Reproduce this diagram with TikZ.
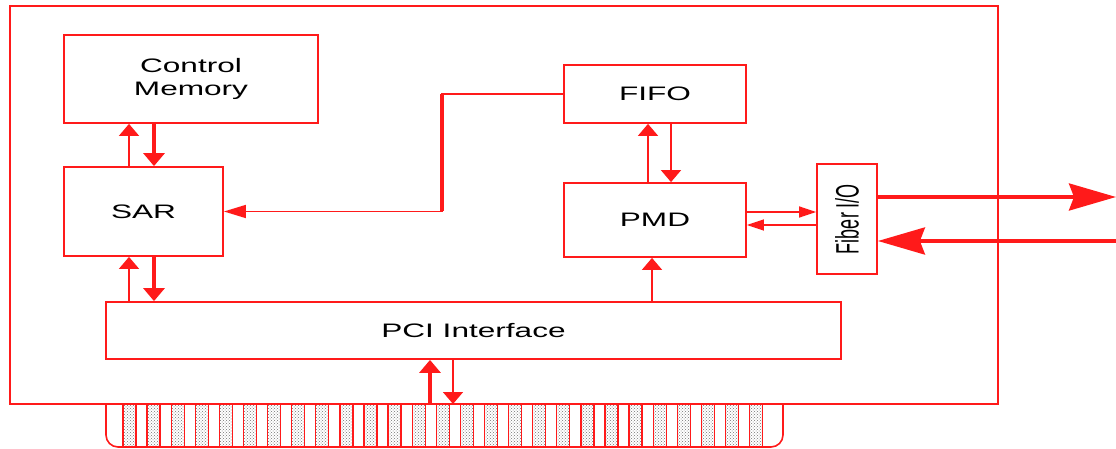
\documentclass[tikz,border=0pt]{standalone}
\usepackage{fontspec}
\setmainfont{Liberation Sans}[FakeStretch=1.62]
\newfontfamily\uprightsans{Liberation Sans}
\usepackage{graphicx}
\usepackage{tikz}
\usetikzlibrary{arrows.meta, positioning, patterns}
\definecolor{boardred}{HTML}{FF1A1A}

\begin{document}
\begin{tikzpicture}[x=1pt, y=-1pt,
    unit/.style={draw=boardred, line width=1.8pt, inner sep=0pt,
                 align=center, font=\fontsize{19.5}{23}\selectfont},
    link/.style={boardred, line width=1.6pt},
    uparr/.style={link, -{Triangle[length=12pt, width=20pt]}},
    bigup/.style={link, line width=4pt, -{Triangle[length=13pt, width=21pt]}},
    sidearr/.style={link, -{Triangle[length=22pt, width=13pt]}},
    smallside/.style={link, -{Triangle[length=17pt, width=11pt]}},
    fiberarr/.style={link, line width=3.6pt,
                     -{Stealth[length=47pt, width=27pt, inset=5pt]}},
    finger/.style={draw=boardred, line width=1.3pt,
                   pattern=crosshatch dots, pattern color=black!55}
  ]
    \useasboundingbox (0,0) rectangle (1116,449);
    % board outline and edge connector
    \draw[link, line width=1.8pt] (10,6) rectangle (998,404);
    \draw[link, rounded corners=12pt] (106,404) -- (106,447) -- (783,447) -- (783,404);
    \foreach \i in {0,...,26}
      \draw[finger] ({123+24.1*\i},404) rectangle ++(13,43);
    \coordinate (slot) at (441,404);

    % blocks
    \node[unit, minimum width=254pt, minimum height=88pt] (cmem) at (191,79)
      {Control\\Memory};
    \node[unit, minimum width=159pt, minimum height=89pt] (sar) at (143.5,211.5) {SAR};
    \node[unit, minimum width=182pt, minimum height=58pt] (fifo) at (655,94) {FIFO};
    \node[unit, minimum width=182pt, minimum height=74pt] (pmd) at (655,220) {PMD};
    \node[unit, minimum width=735pt, minimum height=57pt] (pci) at (473.5,330.5)
      {PCI Interface};
    \node[unit, minimum width=60pt, minimum height=110pt] (fiber) at (847,219) {};
    \node[rotate=90, font=\fontsize{18}{22}\uprightsans] (fiberlbl) at (fiber.center)
      {\scalebox{1}[1.8]{Fiber I/O}};

    % SAR <-> control memory, SAR <-> PCI
    \draw[uparr] ([xshift=-14.5pt]sar.north) -- ([xshift=-14.5pt]sar.north |- cmem.south);
    \draw[bigup] ([xshift=10.5pt]sar.north |- cmem.south) -- ([xshift=10.5pt]sar.north);
    \draw[uparr] ([xshift=-14.5pt]sar.south |- pci.north) -- ([xshift=-14.5pt]sar.south);
    \draw[bigup] ([xshift=10.5pt]sar.south) -- ([xshift=10.5pt]sar.south |- pci.north);

    % FIFO to SAR
    \draw[sidearr] (fifo.west) -- ++(-121,0) |- (sar.east);
    \draw[link, line width=3.5pt] ([xshift=-121pt]fifo.west) -- ([xshift=-121pt]fifo.west |- sar.east);

    % FIFO <-> PMD, PCI -> PMD
    \draw[uparr] ([xshift=-7pt]fifo.south |- pmd.north) -- ([xshift=-7pt]fifo.south);
    \draw[uparr] ([xshift=16pt]fifo.south) -- ([xshift=16pt]fifo.south |- pmd.north);
    \draw[uparr] ([xshift=-3pt]pmd.south |- pci.north) -- ([xshift=-3pt]pmd.south);

    % PMD <-> fiber
    \draw[smallside] ([yshift=8pt]pmd.east) -- ([yshift=8pt]pmd.east -| fiber.west);
    \draw[smallside] ([yshift=-6pt]fiber.west) -- ([yshift=-6pt]fiber.west -| pmd.east);

    % fiber lines
    \coordinate (fibout) at (1116,197);
    \coordinate (fibin) at (1116,241);
    \draw[fiberarr] ([yshift=22pt]fiber.east) -- (fibout);
    \draw[fiberarr] (fibin) -- ([yshift=-22pt]fiber.east);

    % PCI <-> edge connector
    \draw[bigup] ([xshift=-43.5pt]pci.south |- slot) -- ([xshift=-43.5pt]pci.south);
    \draw[uparr] ([xshift=-20.5pt]pci.south) -- ([xshift=-20.5pt]pci.south |- slot);
  \end{tikzpicture}
\end{document}
